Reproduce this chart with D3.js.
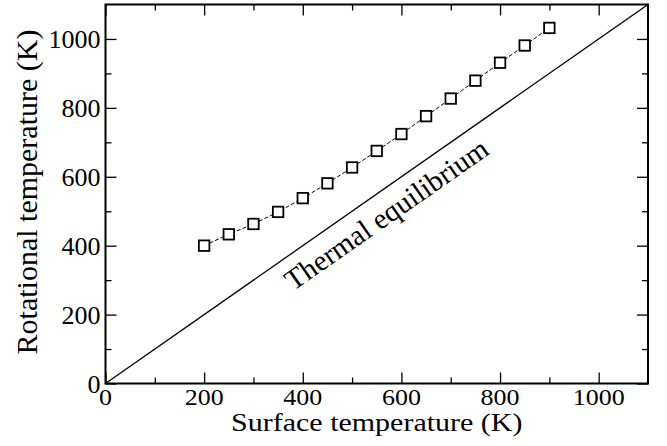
<!DOCTYPE html>
<html>
<head>
<meta charset="utf-8">
<script src="https://cdn.jsdelivr.net/npm/d3@7"></script>
<style>
body { margin: 0; background: #fff; }
</style>
</head>
<body>
<svg id="chart" width="667" height="446"></svg>
<script>
// data
var surfaceT = [200, 250, 300, 350, 400, 450, 500, 550, 600, 650, 700, 750, 800, 850, 900];
var rotT = [400, 433, 463, 498, 538, 581, 627, 675, 724, 776, 827, 879, 931, 981, 1032];
var xTicks = [0, 200, 400, 600, 800, 1000];
var yTicks = [0, 200, 400, 600, 800, 1000];
var equilibrium = [0, 1100];

var serif = "'Liberation Serif', 'Times New Roman', Times, 'DejaVu Serif', serif";
var squash = 0.85; // horizontal labels look a bit flattened in the original

var svg = d3.select("#chart"),
    margin = {top: 4.5, right: 19, bottom: 62.5, left: 105.5},
    width = +svg.attr("width") - margin.left - margin.right,
    height = +svg.attr("height") - margin.top - margin.bottom,
    g = svg.append("g").attr("transform", "translate(" + margin.left + "," + margin.top + ")");

var x = d3.scaleLinear().domain([0, 1100]).range([0, width]);
var y = d3.scaleLinear().domain([0, 1100]).range([height, 0]);

var minor = d3.range(100, 1100, 200);

// ticks on all four sides, pointing inwards
function ticks(axisFn, scale, vals, len) {
  return axisFn(scale).tickValues(vals).tickSizeInner(-len).tickSizeOuter(0).tickFormat("");
}

function styleAxis(sel) {
  sel.select(".domain").remove();
  sel.selectAll("line").attr("stroke", "#000").attr("stroke-width", 1.3);
}

var bottom = g.append("g").attr("transform", "translate(0," + height + ")");
bottom.append("g").call(ticks(d3.axisBottom, x, xTicks, 11)).call(styleAxis);
bottom.append("g").call(ticks(d3.axisBottom, x, minor, 6)).call(styleAxis);
g.append("g").call(ticks(d3.axisTop, x, xTicks, 11)).call(styleAxis);
g.append("g").call(ticks(d3.axisTop, x, minor, 6)).call(styleAxis);
g.append("g").call(ticks(d3.axisLeft, y, yTicks, 11)).call(styleAxis);
g.append("g").call(ticks(d3.axisLeft, y, minor, 6)).call(styleAxis);
var right = g.append("g").attr("transform", "translate(" + width + ",0)");
right.append("g").call(ticks(d3.axisRight, y, yTicks, 11)).call(styleAxis);
right.append("g").call(ticks(d3.axisRight, y, minor, 6)).call(styleAxis);

// tick labels
g.selectAll(".xlab")
  .data(xTicks)
  .enter().append("text")
  .attr("class", "xlab")
  .attr("transform", function(d) { return "translate(" + x(d) + "," + (height + 21) + ") scale(1," + squash + ")"; })
  .attr("text-anchor", "middle")
  .style("font-family", serif)
  .style("font-size", "26px")
  .text(function(d) { return d; });

g.selectAll(".ylab")
  .data(yTicks)
  .enter().append("text")
  .attr("class", "ylab")
  .attr("x", -5)
  .attr("y", function(d) { return y(d) + 9.5; })
  .attr("text-anchor", "end")
  .style("font-family", serif)
  .style("font-size", "26px")
  .text(function(d) { return d; });

// frame
g.append("rect")
  .attr("width", width).attr("height", height)
  .attr("fill", "none").attr("stroke", "#000").attr("stroke-width", 2);

// thermal equilibrium line
g.append("line")
  .attr("x1", x(equilibrium[0])).attr("y1", y(equilibrium[0]))
  .attr("x2", x(equilibrium[1])).attr("y2", y(equilibrium[1]))
  .attr("stroke", "#000").attr("stroke-width", 1.3);

var angle = Math.atan2(y(0) - y(1), x(1) - x(0)) * 180 / Math.PI;
g.append("text")
  .attr("transform", "translate(" + x(569) + "," + y(492) + ") rotate(" + (-angle) + ")")
  .attr("text-anchor", "middle")
  .attr("dy", "0.35em")
  .style("font-family", serif)
  .style("font-size", "29px")
  .text("Thermal equilibrium");

// data
var pts = surfaceT.map(function(d, i) { return [d, rotT[i]]; });

g.append("path")
  .datum(pts)
  .attr("fill", "none")
  .attr("stroke", "#000")
  .attr("stroke-width", 1)
  .attr("stroke-dasharray", "4,2")
  .attr("d", d3.line().x(function(d) { return x(d[0]); }).y(function(d) { return y(d[1]); }));

g.selectAll(".pt")
  .data(pts)
  .enter().append("rect")
  .attr("class", "pt")
  .attr("x", function(d) { return x(d[0]) - 5.25; })
  .attr("y", function(d) { return y(d[1]) - 5.25; })
  .attr("width", 10.5).attr("height", 10.5)
  .attr("fill", "#fff")
  .attr("stroke", "#000")
  .attr("stroke-width", 1.8);

// axis titles
svg.append("text")
  .attr("transform", "translate(" + (margin.left + width / 2) + ",431) scale(1," + squash + ")")
  .attr("text-anchor", "middle")
  .style("font-family", serif)
  .style("font-size", "30px")
  .text("Surface temperature (K)");

svg.append("text")
  .attr("transform", "translate(37,192) rotate(-90)")
  .attr("text-anchor", "middle")
  .style("font-family", serif)
  .style("font-size", "30px")
  .text("Rotational temperature (K)");
</script>
</body>
</html>
